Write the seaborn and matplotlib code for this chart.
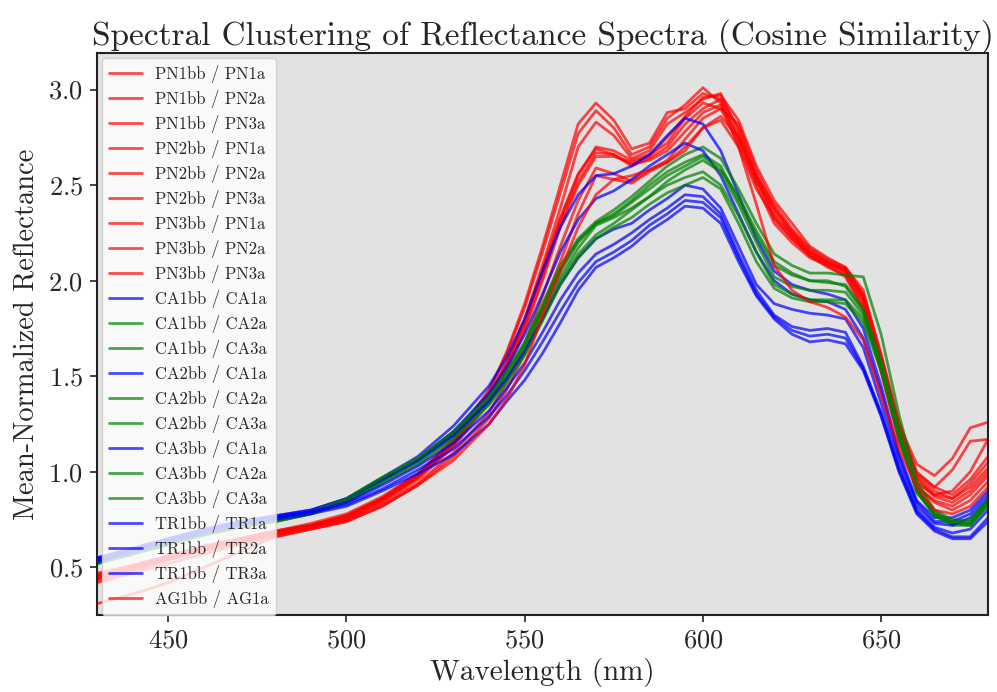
import matplotlib
matplotlib.use("Agg")
import matplotlib.pyplot as plt
from matplotlib.lines import Line2D
import seaborn as sns
import pandas as pd

wavelengths = [430, 440, 450, 460, 470, 480, 490, 500, 510, 520, 530, 540, 545, 550, 555,
               560, 565, 570, 575, 580, 585, 590, 595, 600, 605, 610, 615, 620, 625, 630,
               635, 640, 645, 650, 655, 660, 665, 670, 675, 680]

labels = ["PN1bb / PN1a", "PN1bb / PN2a", "PN1bb / PN3a",
          "PN2bb / PN1a", "PN2bb / PN2a", "PN2bb / PN3a",
          "PN3bb / PN1a", "PN3bb / PN2a", "PN3bb / PN3a",
          "CA1bb / CA1a", "CA1bb / CA2a", "CA1bb / CA3a",
          "CA2bb / CA1a", "CA2bb / CA2a", "CA2bb / CA3a",
          "CA3bb / CA1a", "CA3bb / CA2a", "CA3bb / CA3a",
          "TR1bb / TR1a", "TR1bb / TR2a", "TR1bb / TR3a",
          "AG1bb / AG1a"]

clusters = ["red"] * 9 + ["blue", "green", "green", "blue", "green", "green",
                          "blue", "green", "green", "blue", "blue", "blue", "red"]

pn1bb_pn1a = [0.45, 0.50, 0.56, 0.61, 0.65, 0.69, 0.72, 0.77, 0.86, 0.98, 1.16, 1.42, 1.63, 1.88, 2.18,
              2.50, 2.82, 2.93, 2.84, 2.69, 2.72, 2.88, 2.90, 2.98, 2.95, 2.74, 2.52, 2.38, 2.25, 2.15,
              2.10, 2.06, 1.92, 1.58, 1.22, 0.98, 0.90, 0.86, 0.92, 1.02]
pn1bb_pn2a = [0.44, 0.49, 0.55, 0.60, 0.64, 0.68, 0.72, 0.77, 0.86, 0.99, 1.17, 1.43, 1.62, 1.86, 2.15,
              2.46, 2.77, 2.89, 2.80, 2.66, 2.70, 2.85, 2.92, 3.01, 2.93, 2.70, 2.48, 2.33, 2.22, 2.13,
              2.09, 2.05, 1.90, 1.56, 1.20, 0.96, 0.87, 0.84, 0.90, 1.00]
pn1bb_pn3a = [0.43, 0.48, 0.54, 0.59, 0.63, 0.67, 0.71, 0.76, 0.85, 0.97, 1.15, 1.40, 1.58, 1.80, 2.08,
              2.38, 2.70, 2.83, 2.76, 2.64, 2.68, 2.82, 2.88, 2.95, 2.98, 2.78, 2.55, 2.40, 2.27, 2.17,
              2.11, 2.07, 1.95, 1.60, 1.25, 1.04, 0.98, 1.07, 1.23, 1.26]
pn2bb_pn1a = [0.46, 0.51, 0.56, 0.61, 0.65, 0.69, 0.72, 0.77, 0.86, 0.98, 1.15, 1.38, 1.56, 1.78, 2.05,
              2.32, 2.55, 2.70, 2.68, 2.63, 2.66, 2.72, 2.85, 2.93, 2.90, 2.72, 2.50, 2.30, 2.20, 2.12,
              2.08, 2.04, 1.88, 1.55, 1.18, 0.94, 0.88, 0.90, 1.00, 1.17]
pn2bb_pn2a = [0.45, 0.50, 0.55, 0.60, 0.64, 0.68, 0.72, 0.76, 0.85, 0.97, 1.14, 1.37, 1.55, 1.76, 2.02,
              2.30, 2.52, 2.67, 2.66, 2.60, 2.64, 2.70, 2.82, 2.90, 2.95, 2.80, 2.55, 2.32, 2.22, 2.14,
              2.08, 2.02, 1.85, 1.52, 1.16, 0.92, 0.85, 0.82, 0.88, 0.98]
pn2bb_pn3a = [0.44, 0.49, 0.54, 0.59, 0.63, 0.67, 0.71, 0.75, 0.84, 0.96, 1.13, 1.36, 1.53, 1.74, 2.00,
              2.28, 2.50, 2.65, 2.65, 2.62, 2.65, 2.75, 2.86, 2.96, 2.97, 2.84, 2.60, 2.42, 2.30, 2.18,
              2.12, 2.07, 1.93, 1.62, 1.26, 1.00, 0.92, 1.01, 1.16, 1.17]
pn3bb_pn1a = [0.47, 0.51, 0.56, 0.61, 0.65, 0.69, 0.73, 0.78, 0.87, 0.99, 1.16, 1.39, 1.57, 1.79, 2.06,
              2.33, 2.56, 2.69, 2.66, 2.61, 2.63, 2.68, 2.78, 2.88, 2.92, 2.76, 2.52, 2.34, 2.24, 2.13,
              2.07, 2.03, 1.86, 1.53, 1.17, 0.93, 0.84, 0.80, 0.85, 0.95]
pn3bb_pn2a = [0.46, 0.50, 0.55, 0.60, 0.64, 0.68, 0.71, 0.75, 0.83, 0.94, 1.10, 1.31, 1.47, 1.67, 1.92,
              2.18, 2.42, 2.59, 2.56, 2.52, 2.58, 2.63, 2.74, 2.85, 2.90, 2.82, 2.58, 2.38, 2.26, 2.16,
              2.10, 2.05, 1.90, 1.58, 1.22, 0.97, 0.88, 0.86, 0.94, 1.05]
pn3bb_pn3a = [0.42, 0.47, 0.52, 0.57, 0.62, 0.66, 0.70, 0.74, 0.82, 0.93, 1.08, 1.28, 1.43, 1.62, 1.86,
              2.10, 2.35, 2.55, 2.53, 2.51, 2.57, 2.62, 2.70, 2.80, 2.86, 2.75, 2.54, 2.36, 2.24, 2.15,
              2.09, 2.06, 1.92, 1.60, 1.24, 0.99, 0.92, 0.88, 0.96, 1.08]
ca1bb_ca1a = [0.55, 0.60, 0.65, 0.70, 0.74, 0.77, 0.80, 0.86, 0.97, 1.08, 1.24, 1.45, 1.60, 1.80, 2.05,
              2.28, 2.45, 2.55, 2.56, 2.60, 2.66, 2.76, 2.85, 2.82, 2.68, 2.45, 2.22, 2.05, 1.98, 1.95,
              1.93, 1.90, 1.75, 1.45, 1.10, 0.85, 0.76, 0.76, 0.80, 0.90]
ca1bb_ca2a = [0.53, 0.58, 0.63, 0.68, 0.72, 0.75, 0.79, 0.86, 0.97, 1.07, 1.21, 1.40, 1.53, 1.68, 1.88,
              2.08, 2.22, 2.31, 2.37, 2.44, 2.52, 2.60, 2.66, 2.70, 2.64, 2.48, 2.30, 2.14, 2.08, 2.04,
              2.04, 2.03, 2.02, 1.72, 1.30, 0.95, 0.80, 0.75, 0.74, 0.85]
ca1bb_ca3a = [0.52, 0.57, 0.62, 0.67, 0.71, 0.74, 0.78, 0.85, 0.96, 1.06, 1.20, 1.38, 1.51, 1.66, 1.85,
              2.05, 2.20, 2.30, 2.35, 2.42, 2.50, 2.57, 2.62, 2.66, 2.60, 2.42, 2.24, 2.08, 2.03, 2.00,
              1.99, 1.98, 1.85, 1.58, 1.22, 0.92, 0.78, 0.73, 0.72, 0.83]
ca2bb_ca1a = [0.54, 0.59, 0.64, 0.69, 0.73, 0.76, 0.79, 0.85, 0.95, 1.06, 1.21, 1.41, 1.55, 1.72, 1.93,
              2.15, 2.32, 2.43, 2.47, 2.53, 2.60, 2.66, 2.72, 2.68, 2.55, 2.35, 2.15, 2.00, 1.93, 1.90,
              1.89, 1.85, 1.70, 1.42, 1.08, 0.84, 0.74, 0.74, 0.78, 0.88]
ca2bb_ca2a = [0.52, 0.57, 0.62, 0.67, 0.71, 0.74, 0.78, 0.84, 0.95, 1.05, 1.18, 1.36, 1.48, 1.62, 1.80,
              2.00, 2.14, 2.24, 2.30, 2.37, 2.44, 2.52, 2.58, 2.63, 2.57, 2.40, 2.20, 2.02, 1.97, 1.95,
              1.95, 1.94, 1.82, 1.56, 1.20, 0.90, 0.77, 0.72, 0.72, 0.82]
ca2bb_ca3a = [0.53, 0.58, 0.63, 0.68, 0.72, 0.75, 0.79, 0.85, 0.96, 1.06, 1.19, 1.37, 1.49, 1.64, 1.83,
              2.02, 2.17, 2.29, 2.33, 2.38, 2.44, 2.50, 2.54, 2.57, 2.50, 2.34, 2.15, 1.98, 1.93, 1.90,
              1.90, 1.90, 1.80, 1.55, 1.19, 0.90, 0.77, 0.73, 0.73, 0.84]
ca3bb_ca1a = [0.55, 0.60, 0.65, 0.70, 0.74, 0.77, 0.80, 0.86, 0.96, 1.06, 1.19, 1.37, 1.49, 1.63, 1.80,
              1.98, 2.12, 2.22, 2.27, 2.30, 2.37, 2.43, 2.50, 2.48, 2.38, 2.18, 1.98, 1.88, 1.85, 1.83,
              1.82, 1.80, 1.65, 1.36, 1.05, 0.82, 0.73, 0.72, 0.76, 0.86]
ca3bb_ca2a = [0.52, 0.57, 0.62, 0.67, 0.71, 0.74, 0.78, 0.84, 0.94, 1.04, 1.17, 1.35, 1.47, 1.61, 1.79,
              1.98, 2.12, 2.22, 2.28, 2.33, 2.40, 2.46, 2.50, 2.54, 2.48, 2.30, 2.10, 1.96, 1.91, 1.89,
              1.89, 1.88, 1.78, 1.53, 1.18, 0.89, 0.78, 0.74, 0.75, 0.86]
ca3bb_ca3a = [0.53, 0.58, 0.63, 0.68, 0.72, 0.75, 0.79, 0.86, 0.97, 1.07, 1.21, 1.39, 1.52, 1.67, 1.86,
              2.06, 2.21, 2.30, 2.34, 2.41, 2.48, 2.55, 2.60, 2.65, 2.58, 2.44, 2.26, 2.10, 2.04, 2.00,
              2.00, 1.97, 1.84, 1.57, 1.21, 0.91, 0.79, 0.74, 0.73, 0.84]
tr1bb_tr1a = [0.54, 0.59, 0.64, 0.69, 0.73, 0.76, 0.79, 0.84, 0.93, 1.03, 1.15, 1.32, 1.44, 1.57, 1.73,
              1.90, 2.04, 2.14, 2.19, 2.25, 2.32, 2.38, 2.45, 2.44, 2.35, 2.14, 1.95, 1.82, 1.76, 1.74,
              1.75, 1.73, 1.55, 1.31, 1.02, 0.80, 0.71, 0.68, 0.70, 0.80]
tr1bb_tr2a = [0.53, 0.58, 0.63, 0.68, 0.72, 0.75, 0.78, 0.82, 0.90, 0.99, 1.09, 1.25, 1.37, 1.48, 1.62,
              1.78, 1.95, 2.07, 2.12, 2.18, 2.26, 2.32, 2.39, 2.38, 2.30, 2.10, 1.92, 1.80, 1.72, 1.68,
              1.69, 1.67, 1.53, 1.29, 1.00, 0.78, 0.69, 0.65, 0.65, 0.74]
tr1bb_tr3a = [0.54, 0.59, 0.64, 0.69, 0.73, 0.76, 0.79, 0.83, 0.91, 1.01, 1.12, 1.29, 1.40, 1.53, 1.68,
              1.84, 1.99, 2.10, 2.15, 2.21, 2.29, 2.35, 2.42, 2.41, 2.33, 2.12, 1.93, 1.81, 1.74, 1.71,
              1.72, 1.70, 1.54, 1.30, 1.01, 0.79, 0.70, 0.66, 0.66, 0.76]
ag1bb_ag1a = [0.31, 0.36, 0.42, 0.50, 0.58, 0.66, 0.70, 0.74, 0.82, 0.93, 1.06, 1.25, 1.38, 1.56, 1.82,
              2.05, 2.28, 2.45, 2.53, 2.55, 2.58, 2.62, 2.68, 2.80, 2.84, 2.70, 2.40, 2.08, 1.95, 1.89,
              1.86, 1.81, 1.69, 1.40, 1.12, 0.92, 0.80, 0.78, 0.82, 0.92]

series = [pn1bb_pn1a, pn1bb_pn2a, pn1bb_pn3a, pn2bb_pn1a, pn2bb_pn2a, pn2bb_pn3a,
          pn3bb_pn1a, pn3bb_pn2a, pn3bb_pn3a, ca1bb_ca1a, ca1bb_ca2a, ca1bb_ca3a,
          ca2bb_ca1a, ca2bb_ca2a, ca2bb_ca3a, ca3bb_ca1a, ca3bb_ca2a, ca3bb_ca3a,
          tr1bb_tr1a, tr1bb_tr2a, tr1bb_tr3a, ag1bb_ag1a]

rows = []
for lab, vals in zip(labels, series):
    for w, v in zip(wavelengths, vals):
        rows.append({"Wavelength": w, "Reflectance": v, "Pair": lab})
df = pd.DataFrame(rows)
palette = dict(zip(labels, clusters))

sns.set_style("ticks", {"axes.facecolor": "#e2e2e2", "axes.edgecolor": "#222222"})
plt.rcParams["font.family"] = ["cmr10", "DejaVu Serif"]
plt.rcParams["mathtext.fontset"] = "cm"
plt.rcParams["axes.formatter.use_mathtext"] = True
plt.rcParams["axes.unicode_minus"] = False

fig = plt.figure(figsize=(9.97, 6.92), dpi=100)
ax = fig.add_axes([0.0973, 0.111, 0.8937, 0.812])

sns.lineplot(data=df, x="Wavelength", y="Reflectance", hue="Pair", hue_order=labels,
             palette=palette, units="Pair", estimator=None, sort=False,
             alpha=0.7, linewidth=2, legend=False, ax=ax)

ax.set_xlim(430, 680)
ax.set_ylim(0.25, 3.19)
ax.set_xticks([450, 500, 550, 600, 650])
ax.set_yticks([0.5, 1.0, 1.5, 2.0, 2.5, 3.0])
ax.tick_params(labelsize=19, length=5, width=1.2, color="#222222", pad=5)
for s in ax.spines.values():
    s.set_linewidth(1.5)
ax.set_xlabel("Wavelength (nm)", fontsize=21, labelpad=4)
ax.set_ylabel("Mean-Normalized Reflectance", fontsize=20.5, labelpad=6)
ax.set_title("Spectral Clustering of Reflectance Spectra (Cosine Similarity)", fontsize=24, pad=5)

handles = [Line2D([0], [0], color=c, alpha=0.7, linewidth=2) for c in clusters]
leg = ax.legend(handles, labels, loc="upper left", fontsize=12, labelspacing=0.42,
                handlelength=2.0, borderaxespad=0.3, frameon=True, fancybox=True,
                framealpha=0.8, facecolor="#ffffff", edgecolor="#cccccc")

fig.savefig("out.png", dpi=100)
